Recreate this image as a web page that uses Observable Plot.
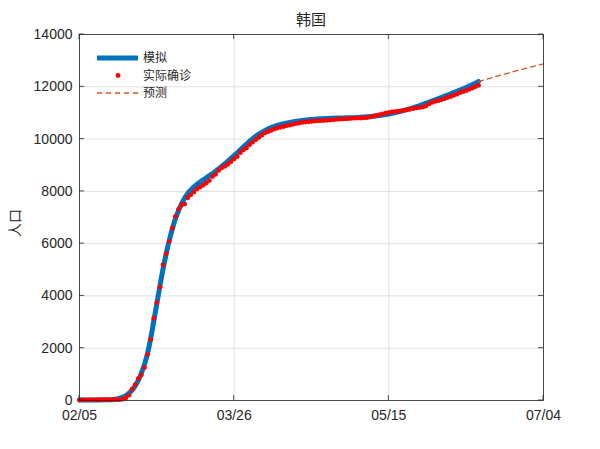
<!DOCTYPE html>
<html>
<head>
<meta charset="utf-8">
<script src="https://cdn.jsdelivr.net/npm/d3@7"></script>
<script src="https://cdn.jsdelivr.net/npm/@observablehq/plot@0.6"></script>
<style>
  html, body { margin: 0; padding: 0; background: #fff; }
</style>
</head>
<body>
<div id="chart"></div>
<script>
// ---- Data ----
const titleText = "韩国";
const yAxisLabel = "人口";
const legendLabels = ["模拟", "实际确诊", "预测"];

// x positions: days since 02/05
const xTickDays = [0, 50, 100, 150];
const xTickLabels = ["02/05", "03/26", "05/15", "07/04"];
const yTicks = [0, 2000, 4000, 6000, 8000, 10000, 12000, 14000];

// actual confirmed cases, one value per day starting at day 0 (02/05)
const actualValues = [
  19, 23, 24, 24, 27, 27, 28, 28, 28, 28,
  28, 29, 30, 31, 51, 104, 204, 433, 602, 833,
  977, 1261, 1766, 2337, 3150, 3736, 4335, 5186, 5621, 6088,
  6593, 7041, 7313, 7478, 7513, 7755, 7869, 7979, 8086, 8162,
  8236, 8320, 8413, 8565, 8652, 8799, 8897, 8961, 9037, 9137,
  9241, 9332, 9478, 9583, 9661, 9786, 9887, 9976, 10062, 10156,
  10237, 10284, 10331, 10384, 10423, 10450, 10480, 10512, 10537, 10564,
  10591, 10613, 10635, 10653, 10661, 10674, 10683, 10694, 10702, 10708,
  10718, 10728, 10738, 10752, 10761, 10765, 10774, 10780, 10793, 10801,
  10804, 10806, 10810, 10822, 10840, 10874, 10909, 10936, 10962, 10991,
  11018, 11037, 11050, 11065, 11078, 11110, 11122, 11142, 11165, 11190,
  11206, 11225, 11265, 11344, 11402, 11441, 11468, 11503, 11541, 11590,
  11629, 11668, 11719, 11776, 11814, 11852, 11902, 11947, 12003, 12051
];

// fitted model curve
const modelDays = [0, 5, 9, 11, 12, 13, 14, 15, 16, 17, 18, 19, 20, 21, 22, 23, 24, 25, 26, 27,
  28, 29, 30, 31, 32, 33, 34, 35, 36, 37, 38, 40, 42, 44, 46, 48, 50, 52, 54, 56,
  58, 60, 62, 65, 68, 72, 76, 80, 85, 90, 95, 100, 105, 110, 115, 120, 125, 129];
const modelValues = [20, 22, 28, 40, 58, 88, 130, 190, 280, 400, 560, 770, 1050, 1380, 1800, 2370, 3030, 3700, 4380, 5030,
  5600, 6110, 6560, 6950, 7260, 7520, 7740, 7920, 8050, 8170, 8270, 8440, 8600, 8770, 8960, 9160, 9370, 9590, 9810, 10010,
  10190, 10330, 10440, 10560, 10640, 10710, 10760, 10790, 10810, 10830, 10870, 10960, 11100, 11280, 11500, 11730, 11970, 12200];

// forecast (dashed)
const forecastDays = [129, 135, 140, 145, 150];
const forecastValues = [12200, 12410, 12570, 12725, 12880];

// ---- Tables ----
const actual = actualValues.map((v, i) => ({day: i, value: v}));
const model = modelDays.map((d, i) => ({day: d, value: modelValues[i]}));
const forecast = forecastDays.map((d, i) => ({day: d, value: forecastValues[i]}));

const blue = "#0072BD", red = "#FF0000", orange = "#D95319";
const axisColor = "#262626", gridColor = "#dfdfdf";
const cjk = "'Noto Sans CJK SC', 'Noto Sans', sans-serif";

const chart = Plot.plot({
  width: 600,
  height: 449,
  marginLeft: 79,
  marginRight: 57,
  marginTop: 34,
  marginBottom: 49,
  style: {fontFamily: "'Liberation Sans', Arial, sans-serif", fontSize: "14px", color: axisColor, background: "#fff", overflow: "visible"},
  x: {domain: [0, 150], label: null},
  y: {domain: [0, 14000], label: null},
  marks: [
    Plot.gridX(xTickDays, {stroke: gridColor, strokeOpacity: 1}),
    Plot.gridY(yTicks, {stroke: gridColor, strokeOpacity: 1}),
    Plot.axisX(xTickDays, {tickSize: 0, tickPadding: 10, tickFormat: d => xTickLabels[xTickDays.indexOf(d)], fill: axisColor, fontSize: 14}),
    Plot.axisY(yTicks, {tickSize: 0, tickPadding: 7, tickFormat: d3.format("d"), fill: axisColor, fontSize: 14}),
    Plot.line(model, {x: "day", y: "value", stroke: blue, strokeWidth: 5, curve: "catmull-rom"}),
    Plot.dot(actual, {x: "day", y: "value", r: 2.4, fill: red, stroke: "none"}),
    Plot.line(forecast, {x: "day", y: "value", stroke: orange, strokeWidth: 1.3, strokeDasharray: "5,4"}),
    Plot.frame({stroke: axisColor, strokeWidth: 0.8})
  ]
});

document.getElementById("chart").appendChild(chart);

// ---- Inward ticks, title, y label, legend ----
const svg = d3.select(chart);
const xs = chart.scale("x"), ys = chart.scale("y");
const x0 = xs.apply(0), x1 = xs.apply(150), y0 = ys.apply(0), y1 = ys.apply(14000);
const tl = 5;
const g = svg.append("g").attr("stroke", axisColor).attr("stroke-width", 0.8);
xTickDays.forEach(d => {
  const x = xs.apply(d);
  g.append("line").attr("x1", x).attr("x2", x).attr("y1", y0).attr("y2", y0 - tl);
  g.append("line").attr("x1", x).attr("x2", x).attr("y1", y1).attr("y2", y1 + tl);
});
yTicks.forEach(v => {
  const y = ys.apply(v);
  g.append("line").attr("x1", x0).attr("x2", x0 + tl).attr("y1", y).attr("y2", y);
  g.append("line").attr("x1", x1).attr("x2", x1 - tl).attr("y1", y).attr("y2", y);
});

svg.append("text")
  .attr("x", (x0 + x1) / 2).attr("y", 25)
  .attr("text-anchor", "middle")
  .attr("font-family", cjk).attr("font-size", 15).attr("fill", axisColor)
  .text(titleText);

svg.append("text")
  .attr("transform", `translate(20, ${(y0 + y1) / 2 + 6}) rotate(-90)`)
  .attr("text-anchor", "middle")
  .attr("font-family", cjk).attr("font-size", 14).attr("fill", axisColor)
  .text(yAxisLabel);

const lg = svg.append("g").attr("font-family", cjk).attr("font-size", 12).attr("fill", axisColor).attr("text-anchor", "start");
const rows = [58, 75.5, 93];
lg.append("line").attr("x1", 97).attr("x2", 138).attr("y1", rows[0]).attr("y2", rows[0]).attr("stroke", blue).attr("stroke-width", 5);
lg.append("circle").attr("cx", 118).attr("cy", rows[1]).attr("r", 2.4).attr("fill", red);
lg.append("line").attr("x1", 97).attr("x2", 138).attr("y1", rows[2]).attr("y2", rows[2]).attr("stroke", orange).attr("stroke-width", 1.3).attr("stroke-dasharray", "5,4");
legendLabels.forEach((t, i) => {
  lg.append("text").attr("x", 143).attr("y", rows[i]).attr("dy", "0.35em").attr("text-anchor", "start").text(t);
});
</script>
</body>
</html>
